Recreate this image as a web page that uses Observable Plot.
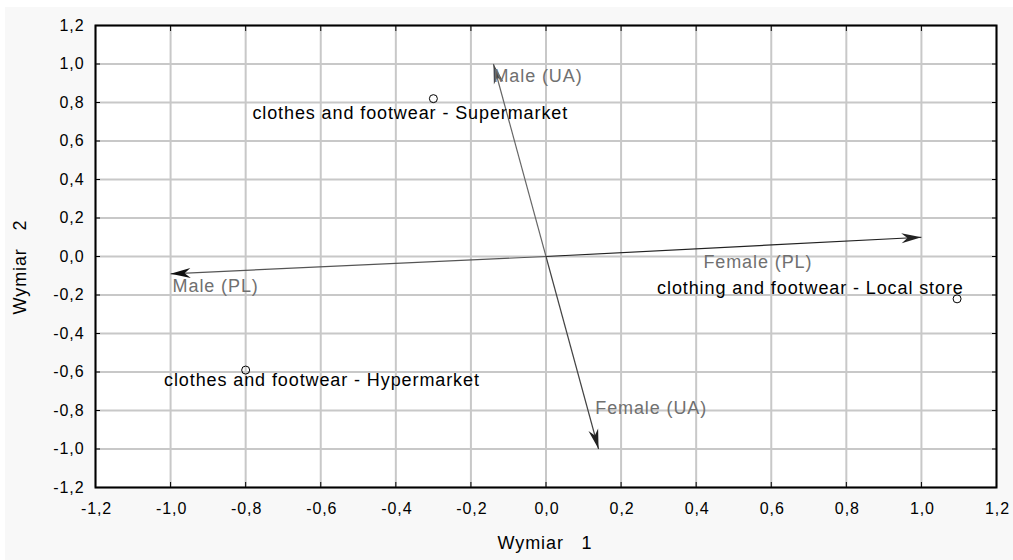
<!DOCTYPE html>
<html><head><meta charset="utf-8">
<script src="https://cdn.jsdelivr.net/npm/d3@7"></script>
<script src="https://cdn.jsdelivr.net/npm/@observablehq/plot@0.6"></script>
<style>
html,body{margin:0;padding:0;background:#fff;}
#wrap{position:relative;width:1013px;height:560px;overflow:hidden;}
#bg{position:absolute;left:5px;top:7px;right:0;bottom:0;background:#f8f8f8;}
#chart{position:absolute;left:0;top:0;}
</style></head><body>
<div id="wrap"><div id="bg"></div><div id="chart"></div></div>
<script>
// ---- data ----
const categories = ["clothes and footwear - Supermarket", "clothes and footwear - Hypermarket", "clothing and footwear - Local store"];
const catX = [-0.30, -0.80, 1.095];
const catY = [0.82, -0.59, -0.22];

const variables = ["Male (UA)", "Male (PL)", "Female (PL)", "Female (UA)"];
const varX = [-0.14, -1.00, 1.00, 0.14];
const varY = [1.00, -0.09, 0.10, -1.00];

const tickValues = [-1.2, -1.0, -0.8, -0.6, -0.4, -0.2, 0, 0.2, 0.4, 0.6, 0.8, 1.0, 1.2];
const titleX = "Wymiar   1";
const titleY = "Wymiar   2";

// ---- styles ----
const W = 1013, H = 560, ML = 95, MR = 17, MT = 25, MB = 73;
const kx = (W - ML - MR) / 2.4, ky = (H - MT - MB) / 2.4;
const font = "'Liberation Sans', Arial, sans-serif";
const lineColor = {"Male (UA)": "#666", "Male (PL)": "#555", "Female (PL)": "#222", "Female (UA)": "#444"};
const headColor = {"Male (UA)": "#444", "Male (PL)": "#111", "Female (PL)": "#222", "Female (UA)": "#222"};
const varLabelOffset = {"Male (UA)": [0, 12.7], "Male (PL)": [2, 12.4], "Female (PL)": [-218, 25], "Female (UA)": [-3.3, -40.3]};
const catLabelOffset = {"clothes and footwear - Supermarket": [-181, 14.3], "clothes and footwear - Hypermarket": [-81.6, 10.4], "clothing and footwear - Local store": [-300, -11]};

const cats = categories.map((name, i) => ({name, x: catX[i], y: catY[i]}));
const vars = variables.map((name, i) => ({name, x: varX[i], y: varY[i]}));
const fmt = v => v.toFixed(1).replace(".", ",");
const nb = s => s.replace(/ /g, "\u00a0");

const headSymbol = {
  draw(ctx) {
    ctx.moveTo(0, 0);
    ctx.lineTo(-5, 20);
    ctx.lineTo(0, 14);
    ctx.lineTo(5, 20);
    ctx.closePath();
  }
};

const marks = [
  Plot.frame({fill: "white", stroke: null}),
  Plot.gridX({ticks: tickValues, stroke: "#c8c8c8", strokeOpacity: 1, strokeWidth: 2}),
  Plot.gridY({ticks: tickValues, stroke: "#c8c8c8", strokeOpacity: 1, strokeWidth: 2}),
  Plot.axisX({anchor: "bottom", ticks: tickValues, tickFormat: () => "", tickSize: -5, label: null}),
  Plot.axisX({anchor: "top", ticks: tickValues, tickFormat: () => "", tickSize: -5, label: null}),
  Plot.axisY({anchor: "left", ticks: tickValues, tickFormat: () => "", tickSize: -5, label: null}),
  Plot.axisY({anchor: "right", ticks: tickValues, tickFormat: () => "", tickSize: -5, label: null}),
  // tick labels
  Plot.text(tickValues, {x: d => d, frameAnchor: "bottom", text: fmt, lineAnchor: "top", dy: 15, dx: 1, fontSize: 16, fill: "#000"}),
  Plot.text(tickValues, {y: d => d, frameAnchor: "left", text: fmt, textAnchor: "end", dx: -11, fontSize: 16, fill: "#000"}),
  Plot.frame({stroke: "#000", strokeWidth: 2}),
  Plot.link(vars, {x1: () => 0, y1: () => 0, x2: "x", y2: "y", stroke: d => lineColor[d.name], strokeWidth: 1.2}),
  Plot.dot(vars, {x: "x", y: "y", symbol: headSymbol, fill: d => headColor[d.name], stroke: null,
    rotate: d => Math.atan2(d.x * kx, d.y * ky) * 180 / Math.PI}),
  Plot.dot(cats, {x: "x", y: "y", r: 4, stroke: "#000", fill: "none", strokeWidth: 1})
];
for (const v of vars) {
  const [dx, dy] = varLabelOffset[v.name];
  marks.push(Plot.text([v], {x: "x", y: "y", text: "name", textAnchor: "start", dx, dy, fill: "#707070", fontSize: 18}));
}
for (const c of cats) {
  const [dx, dy] = catLabelOffset[c.name];
  marks.push(Plot.text([c], {x: "x", y: "y", text: "name", textAnchor: "start", dx, dy, fill: "#000", fontSize: 18}));
}
marks.push(Plot.text([nb(titleX)], {frameAnchor: "bottom", text: d => d, dy: 61, dx: -1, fontSize: 18, fill: "#000"}));
marks.push(Plot.text([nb(titleY)], {frameAnchor: "left", text: d => d, rotate: -90, dx: -75, dy: 58, fontSize: 18, fill: "#000"}));

const chart = Plot.plot({
  width: W, height: H,
  marginLeft: ML, marginRight: MR, marginTop: MT, marginBottom: MB,
  x: {domain: [-1.2, 1.2]},
  y: {domain: [-1.2, 1.2]},
  color: {type: "identity"},
  style: {background: "transparent", fontFamily: font, letterSpacing: "0.9px", color: "#000", overflow: "visible"},
  marks
});
document.getElementById("chart").appendChild(chart);
</script>
</body></html>
